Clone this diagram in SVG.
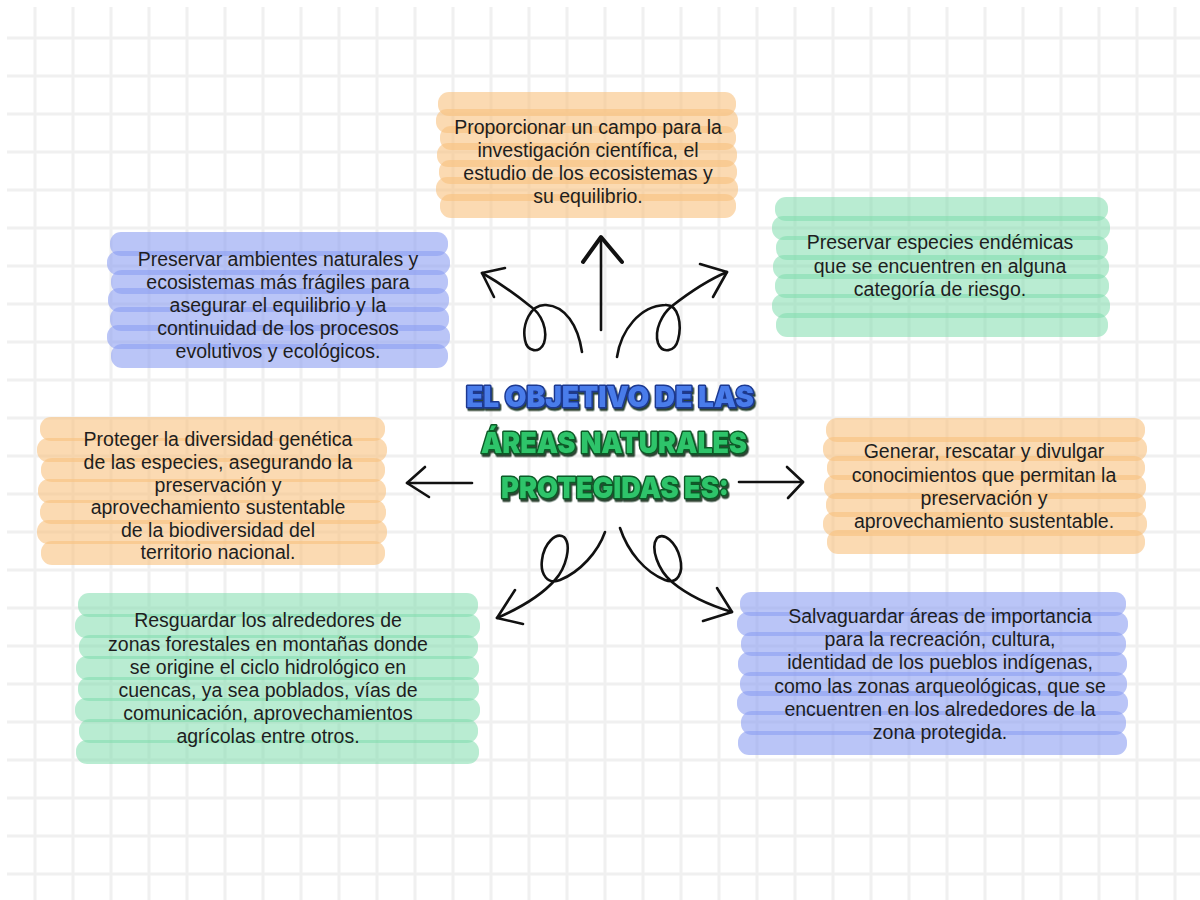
<svg xmlns="http://www.w3.org/2000/svg" width="1200" height="900" viewBox="0 0 1200 900">
<defs>
<pattern id="grid" patternUnits="userSpaceOnUse" x="16" y="19" width="38" height="38">
<rect x="17.5" y="0" width="3" height="38" fill="#f0f0f0"/>
<rect x="0" y="17.5" width="38" height="3" fill="#f0f0f0"/>
</pattern>
<filter id="shd" x="-5%" y="-20%" width="110%" height="150%">
<feDropShadow dx="1.5" dy="2.5" stdDeviation="0.3" flood-color="#13301a" flood-opacity="0.9"/>
</filter>
</defs>
<style>
.or rect{fill:#f9c27f;fill-opacity:0.6}
.gr rect{fill:#7fdcad;fill-opacity:0.55}
.bl rect{fill:#8c9ef2;fill-opacity:0.6}
.t{font-family:"Liberation Sans",Arial,sans-serif;font-size:19.5px;fill:#1e1e1e;text-anchor:middle}
.h{font-family:Inter,"DejaVu Sans",sans-serif;font-weight:900;font-size:29px;text-anchor:middle;paint-order:stroke;stroke-linejoin:round}
.hb{fill:#4a7bea;stroke:#1b3990;stroke-width:3}
.hg{fill:#2fc46a;stroke:#0c5a28;stroke-width:3}
.ar{fill:none;stroke:#111;stroke-width:2.6;stroke-linecap:round;stroke-linejoin:round}
</style>
<rect width="1200" height="900" fill="#fff"/>
<rect x="7" y="7" width="1193" height="893" fill="url(#grid)"/>

<g id="title" filter="url(#shd)">
<text class="h hb" x="610" y="407" textLength="288" lengthAdjust="spacingAndGlyphs">EL OBJETIVO DE LAS</text>
<text class="h hg" x="614" y="453" textLength="266" lengthAdjust="spacingAndGlyphs">ÁREAS NATURALES</text>
<text class="h hg" x="615" y="498" textLength="228" lengthAdjust="spacingAndGlyphs">PROTEGIDAS ES:</text>
</g>

<g id="n1">
<g class="or">
<rect x="438" y="92" width="298" height="24" rx="11"/>
<rect x="436" y="109" width="302" height="24" rx="11"/>
<rect x="440" y="126" width="296" height="24" rx="11"/>
<rect x="437" y="143" width="300" height="24" rx="11"/>
<rect x="439" y="160" width="298" height="24" rx="11"/>
<rect x="436" y="177" width="302" height="24" rx="11"/>
<rect x="440" y="194" width="296" height="24" rx="11"/>
</g>
<text class="t" x="588" y="134">Proporcionar un campo para la</text>
<text class="t" x="588" y="157">investigación científica, el</text>
<text class="t" x="588" y="180">estudio de los ecosistemas y</text>
<text class="t" x="588" y="203">su equilibrio.</text>
</g>

<g id="n2">
<g class="bl">
<rect x="110" y="232" width="338" height="24" rx="11"/>
<rect x="107" y="251" width="343" height="24" rx="11"/>
<rect x="111" y="270" width="337" height="24" rx="11"/>
<rect x="108" y="288" width="341" height="24" rx="11"/>
<rect x="110" y="307" width="339" height="24" rx="11"/>
<rect x="107" y="325" width="343" height="24" rx="11"/>
<rect x="111" y="344" width="337" height="24" rx="11"/>
</g>
<text class="t" x="278" y="266">Preservar ambientes naturales y</text>
<text class="t" x="278" y="289">ecosistemas más frágiles para</text>
<text class="t" x="278" y="312">asegurar el equilibrio y la</text>
<text class="t" x="278" y="335">continuidad de los procesos</text>
<text class="t" x="278" y="358">evolutivos y ecológicos.</text>
</g>

<g id="n3">
<g class="gr">
<rect x="775" y="197" width="333" height="24" rx="11"/>
<rect x="772" y="216" width="338" height="24" rx="11"/>
<rect x="776" y="236" width="332" height="24" rx="11"/>
<rect x="773" y="255" width="336" height="24" rx="11"/>
<rect x="775" y="274" width="334" height="24" rx="11"/>
<rect x="772" y="294" width="338" height="24" rx="11"/>
<rect x="776" y="313" width="332" height="24" rx="11"/>
</g>
<text class="t" x="940" y="249">Preservar especies endémicas</text>
<text class="t" x="940" y="273">que se encuentren en alguna</text>
<text class="t" x="940" y="296">categoría de riesgo.</text>
</g>

<g id="n4">
<g class="or">
<rect x="40" y="417" width="345" height="24" rx="11"/>
<rect x="37" y="438" width="350" height="24" rx="11"/>
<rect x="41" y="458" width="344" height="24" rx="11"/>
<rect x="38" y="479" width="348" height="24" rx="11"/>
<rect x="40" y="500" width="346" height="24" rx="11"/>
<rect x="37" y="520" width="350" height="24" rx="11"/>
<rect x="41" y="541" width="344" height="24" rx="11"/>
</g>
<text class="t" x="218" y="446">Proteger la diversidad genética</text>
<text class="t" x="218" y="469">de las especies, asegurando la</text>
<text class="t" x="218" y="492">preservación y</text>
<text class="t" x="218" y="514">aprovechamiento sustentable</text>
<text class="t" x="218" y="537">de la biodiversidad del</text>
<text class="t" x="218" y="559">territorio nacional.</text>
</g>

<g id="n5">
<g class="or">
<rect x="826" y="418" width="319" height="24" rx="11"/>
<rect x="823" y="437" width="324" height="24" rx="11"/>
<rect x="827" y="456" width="318" height="24" rx="11"/>
<rect x="824" y="475" width="322" height="24" rx="11"/>
<rect x="826" y="493" width="320" height="24" rx="11"/>
<rect x="823" y="512" width="324" height="24" rx="11"/>
<rect x="827" y="530" width="318" height="24" rx="11"/>
</g>
<text class="t" x="984" y="458">Generar, rescatar y divulgar</text>
<text class="t" x="984" y="482">conocimientos que permitan la</text>
<text class="t" x="984" y="505">preservación y</text>
<text class="t" x="984" y="528">aprovechamiento sustentable.</text>
</g>

<g id="n6">
<g class="gr">
<rect x="78" y="593" width="400" height="24" rx="11"/>
<rect x="75" y="614" width="405" height="24" rx="11"/>
<rect x="79" y="635" width="399" height="24" rx="11"/>
<rect x="76" y="656" width="403" height="24" rx="11"/>
<rect x="78" y="677" width="401" height="24" rx="11"/>
<rect x="75" y="698" width="405" height="24" rx="11"/>
<rect x="79" y="719" width="399" height="24" rx="11"/>
<rect x="76" y="740" width="403" height="24" rx="11"/>
</g>
<text class="t" x="268" y="627">Resguardar los alrededores de</text>
<text class="t" x="268" y="651">zonas forestales en montañas donde</text>
<text class="t" x="268" y="674">se origine el ciclo hidrológico en</text>
<text class="t" x="268" y="697">cuencas, ya sea poblados, vías de</text>
<text class="t" x="268" y="720">comunicación, aprovechamientos</text>
<text class="t" x="268" y="743">agrícolas entre otros.</text>
</g>

<g id="n7">
<g class="bl">
<rect x="740" y="592" width="386" height="24" rx="11"/>
<rect x="737" y="612" width="391" height="24" rx="11"/>
<rect x="741" y="632" width="385" height="24" rx="11"/>
<rect x="738" y="652" width="389" height="24" rx="11"/>
<rect x="740" y="672" width="387" height="24" rx="11"/>
<rect x="737" y="691" width="391" height="24" rx="11"/>
<rect x="741" y="711" width="385" height="24" rx="11"/>
<rect x="738" y="731" width="389" height="24" rx="11"/>
</g>
<text class="t" x="940" y="623">Salvaguardar áreas de importancia</text>
<text class="t" x="940" y="646">para la recreación, cultura,</text>
<text class="t" x="940" y="669">identidad de los pueblos indígenas,</text>
<text class="t" x="940" y="693">como las zonas arqueológicas, que se</text>
<text class="t" x="940" y="716">encuentren en los alrededores de la</text>
<text class="t" x="940" y="739">zona protegida.</text>
</g>

<g id="connectors">
<path class="ar" d="M601,330 L601,237"/>
<path class="ar" style="stroke-width:4" d="M583,262 L601,237 L622,262"/>
<path class="ar" d="M582,352 C578,325 565,306 546,305 C530,304 522,325 525,340 C527,352 540,354 544,343 C548,330 542,314 530,306 C515,294 500,283 482,273"/>
<path class="ar" d="M505,268 L482,273 L494,297"/>
<path class="ar" d="M617,357 C621,330 640,306 665,305 C679,304 682,325 678,340 C675,352 662,354 658,343 C654,330 662,314 672,306 C690,292 708,280 727,272"/>
<path class="ar" d="M700,264 L727,272 L713,297"/>
<path class="ar" d="M472,483 L407,483"/>
<path class="ar" d="M425,467 L407,483 L429,497"/>
<path class="ar" d="M739,482 L803,482"/>
<path class="ar" d="M787,467 L803,482 L788,498"/>
<path class="ar" d="M605,532 C598,552 580,572 560,580 C548,585 540,575 542,560 C544,543 556,532 564,537 C572,545 566,568 555,580 C540,597 520,608 497,618"/>
<path class="ar" d="M515,590 L497,618 L523,624"/>
<path class="ar" d="M620,528 C628,552 645,572 665,580 C677,585 684,573 680,558 C676,542 664,532 657,538 C650,548 658,570 672,582 C690,597 712,606 732,612"/>
<path class="ar" d="M717,588 L732,612 L703,621"/>
</g>
</svg>
